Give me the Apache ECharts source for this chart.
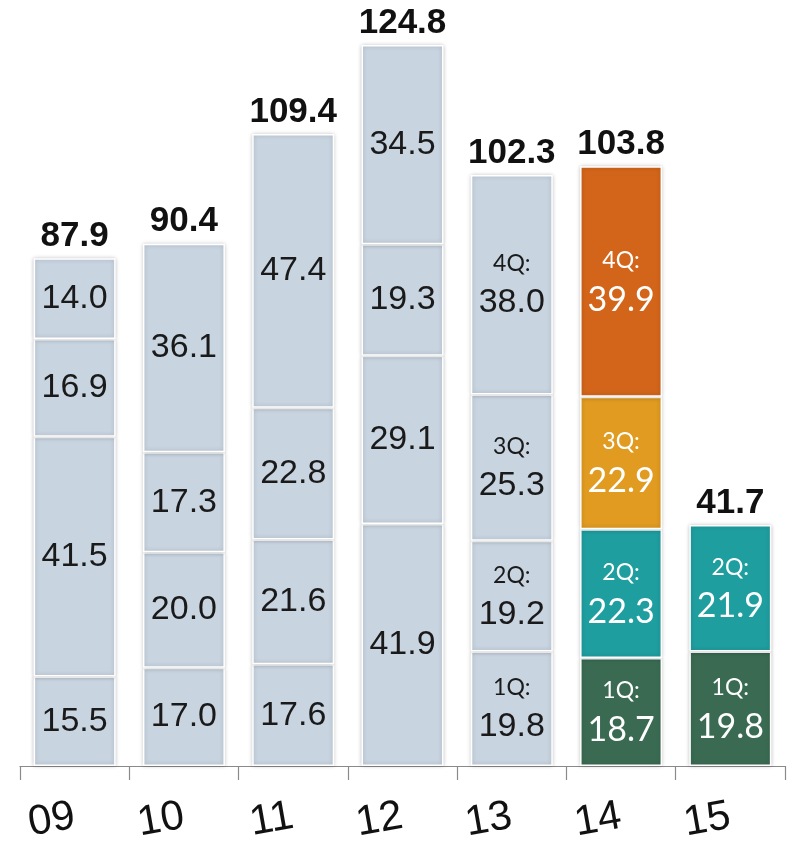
<!DOCTYPE html>
<html>
<head>
<meta charset="utf-8">
<script src="https://cdn.jsdelivr.net/npm/echarts@6/dist/echarts.min.js"></script>
<style>
  html, body { margin: 0; padding: 0; background: #fff; }
  #main { width: 792px; height: 849px; }
</style>
</head>
<body>
<div id="main"></div>
<script>
// 年份
var years = ["09", "10", "11", "12", "13", "14", "15"];
// 各季度数值
var q1 = [15.5, 17.0, 17.6, 41.9, 19.8, 18.7, 19.8];
var q2 = [41.5, 20.0, 21.6, 29.1, 19.2, 22.3, 21.9];
var q3 = [16.9, 17.3, 22.8, 19.3, 25.3, 22.9, "-"];
var q4 = [14.0, 36.1, 47.4, 34.5, 38.0, 39.9, "-"];
var totals = [87.9, 90.4, 109.4, 124.8, 102.3, 103.8, 41.7];

var grey = "#c8d4e0";
var quarterColors = ["#3a6b52", "#1f9ea0", "#e09b20", "#d2651a"];
var coloredFrom = 5; // 14年起用彩色
var qLabelFrom = 4;  // 13年起显示 "xQ:"

function makeSeries(name, values, qi) {
  return {
    name: name,
    type: "bar",
    stack: "total",
    barWidth: 82,
    data: values.map(function (v, i) {
      if (v === "-") return "-";
      return {
        value: v,
        itemStyle: { color: i >= coloredFrom ? quarterColors[qi] : grey },
      };
    }),
    itemStyle: {
      borderColor: "#ffffff",
      borderWidth: 1.5,
      shadowBlur: 4,
      shadowColor: "rgba(0,0,0,0.22)",
    },
    label: {
      show: true,
      position: "inside",
      formatter: function (p) {
        var val = Number(p.value).toFixed(1);
        if (p.dataIndex >= coloredFrom) {
          return "{qw|" + name + ":}\n{w|" + val + "}";
        }
        if (p.dataIndex >= qLabelFrom) {
          return "{q|" + name + ":}\n{v|" + val + "}";
        }
        return "{v|" + val + "}";
      },
      rich: {
        q: { fontFamily: "Lato", fontSize: 23, lineHeight: 36, color: "#1a1a1a" },
        qw: { fontFamily: "Lato", fontSize: 23, lineHeight: 36, color: "#ffffff" },
        v: { fontFamily: "Liberation Sans", fontSize: 34, lineHeight: 42, color: "#1a1a1a" },
        w: { fontFamily: "Lato", fontSize: 34, lineHeight: 42, color: "#ffffff" },
      },
    },
  };
}

var myChart = echarts.init(document.getElementById("main"));
var option = {
  animation: false,
  grid: { left: 20, right: 7, top: 15, bottom: 83 },
  xAxis: {
    type: "category",
    data: years,
    axisLine: { lineStyle: { color: "#8a8a8a", width: 1.2 } },
    axisTick: { show: true, length: 14, lineStyle: { color: "#8a8a8a", width: 1.2 } },
    axisLabel: {
      rotate: 10,
      margin: 50,
      fontFamily: "Liberation Sans",
      fontSize: 42,
      color: "#111",
    },
  },
  yAxis: {
    type: "value",
    min: 0,
    max: 130,
    show: false,
    splitLine: { show: false },
  },
  series: [
    makeSeries("1Q", q1, 0),
    makeSeries("2Q", q2, 1),
    makeSeries("3Q", q3, 2),
    makeSeries("4Q", q4, 3),
    {
      name: "total",
      type: "scatter",
      symbol: "rect",
      symbolSize: 1,
      itemStyle: { color: "rgba(0,0,0,0)", opacity: 1 },
      data: totals,
      label: {
        show: true,
        position: "top",
        distance: 4,
        formatter: function (p) { return Number(p.value).toFixed(1); },
        fontFamily: "Liberation Sans",
        fontWeight: "bold",
        fontSize: 35,
        color: "#111",
      },
      z: 5,
    },
  ],
};
myChart.setOption(option);
</script>
</body>
</html>
